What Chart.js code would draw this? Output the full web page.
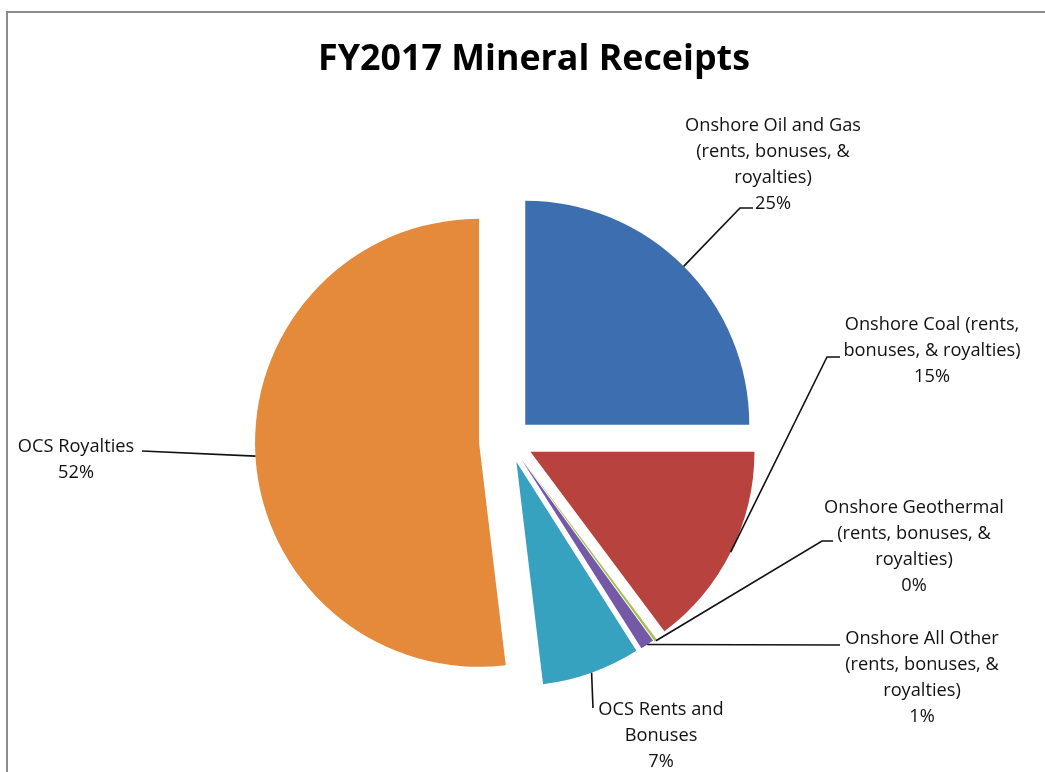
<!DOCTYPE html>
<html>
<head>
<meta charset="utf-8">
<script src="https://cdn.jsdelivr.net/npm/chart.js@4"></script>
<style>
  html, body { margin: 0; padding: 0; background: #fff; }
  #wrap { width: 1045px; height: 772px; }
</style>
</head>
<body>
<div id="wrap"><canvas id="pieMinerals"></canvas></div>
<script>
// data
var categories = [
  "Onshore Oil and Gas (rents, bonuses, & royalties)",
  "Onshore Coal (rents, bonuses, & royalties)",
  "Onshore Geothermal (rents, bonuses, & royalties)",
  "Onshore All Other (rents, bonuses, & royalties)",
  "OCS Rents and Bonuses",
  "OCS Royalties"
];
var labelLines = [
  ["Onshore Oil and Gas", "(rents, bonuses, &", "royalties)"],
  ["Onshore Coal (rents,", "bonuses, & royalties)"],
  ["Onshore Geothermal", "(rents, bonuses, &", "royalties)"],
  ["Onshore All Other", "(rents, bonuses, &", "royalties)"],
  ["OCS Rents and", "Bonuses"],
  ["OCS Royalties"]
];
var shares = [25.0, 14.8, 0.2, 1.0, 7.1, 51.9];
var colors = ['#3d6fb0', '#b8433e', '#a4c04f', '#7459a6', '#37a2c0', '#e5893a'];

// slice explosion (px) and label placement
var explode = [23, 24, 24, 22, 22, 30];
var labelPos = [
  {x: 773, y: 126, elbow: [740, 208], end: [753, 208]},
  {x: 932, y: 325, elbow: [827, 357], end: [840, 357]},
  {x: 914, y: 508, elbow: [822, 541], end: [833, 541]},
  {x: 922, y: 639, elbow: [840, 645], end: [840, 645]},
  {x: 661, y: 710, elbow: [593, 708], end: [593, 708]},
  {x: 76,  y: 447, elbow: [142, 451], end: [142, 451]}
];

var fontFam = '"Open Sans", Lato, sans-serif';
var lineGap = 26;

// size a font so a sample string has the width seen in the original
function fitSize(ctx, weight, text, width) {
  ctx.font = weight + ' 20px ' + fontFam;
  return 20 * width / ctx.measureText(text).width;
}

var explodePlugin = {
  id: 'explode',
  beforeDatasetDraw: function(chart, args) {
    var ctx = chart.ctx;
    args.meta.data.forEach(function(arc, i) {
      var mid = (arc.startAngle + arc.endAngle) / 2;
      ctx.save();
      ctx.translate(Math.cos(mid) * explode[i], Math.sin(mid) * explode[i]);
      arc.draw(ctx, chart.chartArea);
      ctx.restore();
    });
    return false;
  },
  afterDraw: function(chart) {
    var ctx = chart.ctx;
    ctx.save();
    // frame
    ctx.strokeStyle = '#8c8c8c';
    ctx.lineWidth = 2;
    ctx.beginPath();
    ctx.moveTo(7, 772);
    ctx.lineTo(7, 12);
    ctx.lineTo(1045, 12);
    ctx.stroke();

    // title
    var titleSize = fitSize(ctx, 'bold', 'FY2017 Mineral Receipts', 432);
    ctx.fillStyle = '#000';
    ctx.font = 'bold ' + titleSize + 'px ' + fontFam;
    ctx.textAlign = 'center';
    ctx.textBaseline = 'middle';
    ctx.fillText('FY2017 Mineral Receipts', 534, 60);

    var labelSize = fitSize(ctx, 'normal', 'Onshore Oil and Gas', 176);
    var meta = chart.getDatasetMeta(0);
    var total = shares.reduce(function(a, b) { return a + b; }, 0);
    meta.data.forEach(function(arc, i) {
      var p = arc.getProps(['x', 'y', 'startAngle', 'endAngle', 'outerRadius'], true);
      var mid = (p.startAngle + p.endAngle) / 2;
      var r = p.outerRadius + explode[i];
      var ex = p.x + Math.cos(mid) * r;
      var ey = p.y + Math.sin(mid) * r;
      var lp = labelPos[i];

      // leader line
      ctx.strokeStyle = '#111';
      ctx.lineWidth = 1.6;
      ctx.beginPath();
      ctx.moveTo(ex, ey);
      ctx.lineTo(lp.elbow[0], lp.elbow[1]);
      ctx.lineTo(lp.end[0], lp.end[1]);
      ctx.stroke();

      // label text
      ctx.fillStyle = '#111';
      ctx.font = labelSize + 'px ' + fontFam;
      var lines = labelLines[i].concat([Math.round(shares[i] / total * 100) + '%']);
      lines.forEach(function(t, k) {
        ctx.fillText(t, lp.x, lp.y + k * lineGap);
      });
    });
    ctx.restore();
  }
};

var ctxP = document.getElementById('pieMinerals').getContext('2d');
var myPieChart = new Chart(ctxP, {
  type: 'pie',
  data: {
    labels: categories,
    datasets: [{
      data: shares,
      backgroundColor: colors,
      borderWidth: 0,
      radius: 224
    }]
  },
  options: {
    responsive: true,
    maintainAspectRatio: false,
    animation: false,
    layout: {
      padding: {left: 285, right: 312, top: 217, bottom: 107}
    },
    plugins: {
      legend: {display: false},
      tooltip: {enabled: false}
    }
  },
  plugins: [explodePlugin]
});
</script>
</body>
</html>
